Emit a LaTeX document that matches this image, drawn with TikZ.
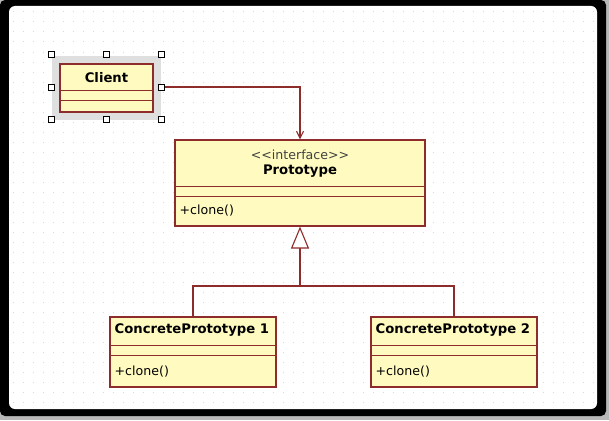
\documentclass[tikz,border=0pt]{standalone}
\usepackage{fontspec}
\setmainfont{DejaVu Sans}
\usetikzlibrary{arrows.meta,positioning,calc}
\definecolor{Maroon}{HTML}{8E2B2B}
\definecolor{Cream}{HTML}{FFFBC0}
\definecolor{Dots}{HTML}{D8D8D8}
\definecolor{Shade}{HTML}{B8B8B8}
\tikzset{
  umlbox/.style={
    draw=Maroon,fill=Cream,line width=1.1pt,inner sep=0pt
  },
  umlline/.style={draw=Maroon,line width=1.1pt},
  title/.style={font=\fontsize{13.2}{15}\selectfont\bfseries,inner sep=0pt,text=black},
  member/.style={font=\fontsize{12.6}{14}\selectfont,inner sep=0pt,anchor=west,text=black},
  handle/.style={draw=black,fill=white,line width=0.7pt,minimum size=6pt,inner sep=0pt},
  assoc/.style={umlline,-{Straight Barb[length=7pt,width=7pt,line width=1.1pt]}},
  inherit/.style={umlline,-{Triangle[open,length=22pt,width=18pt,fill=white]}}
}
\begin{document}
\begin{tikzpicture}[x=1pt,y=-1pt]
  % frame and dotted canvas
  \fill[Shade] (0,0) rectangle (609,420);
  \fill[black,rounded corners=5pt] (0,0) rectangle (606,416);
  \fill[white,rounded corners=6pt] (9,6) rectangle (597,409);
  \foreach \y in {12,22,...,402}
    \draw[Dots,line width=1pt,dash pattern=on 1pt off 9pt] (13,\y) -- (594,\y);
  \useasboundingbox (0,0) rectangle (609,420);

  % Client, selected
  \node[fill=Shade!45,minimum width=109,minimum height=64,inner sep=0pt] (sel) at (106.5,88) {};
  \node[umlbox,minimum width=93,minimum height=48] (client) at (106.5,88) {};
  \draw[umlline] ($(client.north west)+(0,27)$) -- ($(client.north east)+(0,27)$);
  \draw[umlline] ($(client.north west)+(0,37)$) -- ($(client.north east)+(0,37)$);
  \node[title] (clientname) at ($(client.north)+(0,14)$) {Client};
  \foreach \p/\q in {north west/nw,north/n,north east/ne,west/w,east/e,south west/sw,south/s,south east/se}
    \node[handle] (h\q) at ([yshift=1pt]sel.\p) {};

  % Prototype
  \node[umlbox,minimum width=250,minimum height=86] (proto) at (300,183) {};
  \draw[umlline] ($(proto.north west)+(0,47)$) -- ($(proto.north east)+(0,47)$);
  \draw[umlline] ($(proto.north west)+(0,57)$) -- ($(proto.north east)+(0,57)$);
  \node[member,anchor=center,text=black!75] (stereo) at ($(proto.north)+(0,15)$) {{<}{<}interface{>}{>}};
  \node[title] (protoname) at ($(proto.north)+(0,32)$) {Prototype};
  \node[member] (protoop) at ($(proto.north west)+(5,71)$) {+clone()};

  % concrete prototypes
  \node[umlbox,minimum width=166,minimum height=70] (cpone) at (193,352) {};
  \node[umlbox,minimum width=166,minimum height=70] (cptwo) at (454,352) {};
  \foreach \c/\n in {cpone/1,cptwo/2} {
    \draw[umlline] ($(\c.north west)+(0,29)$) -- ($(\c.north east)+(0,29)$);
    \draw[umlline] ($(\c.north west)+(0,39)$) -- ($(\c.north east)+(0,39)$);
    \node[title,anchor=west] (\c name) at ($(\c.north west)+(5,14)$) {ConcretePrototype \n};
    \node[member] (\c op) at ($(\c.north west)+(5,55)$) {+clone()};
  }

  % connectors
  \coordinate (join) at (proto.south |- 0,286);
  \draw[umlline] (cpone.north) |- (join) -| (cptwo.north);
  \draw[inherit] (join) -- (proto.south);
  \draw[assoc] (he) -| (proto.north);
\end{tikzpicture}
\end{document}
